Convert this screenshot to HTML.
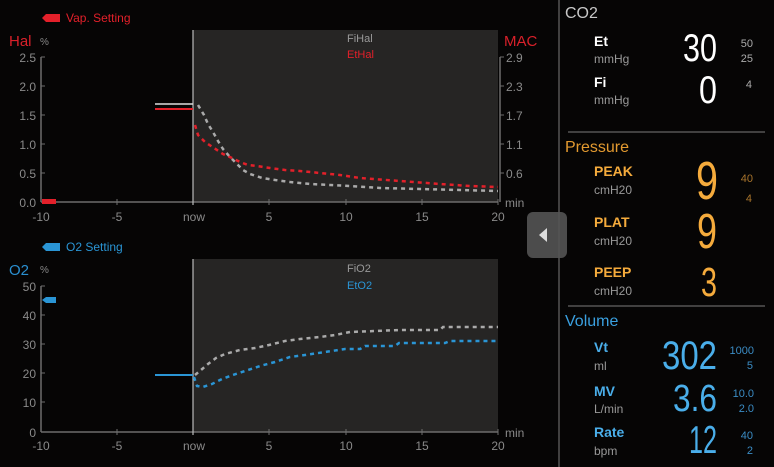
<!DOCTYPE html>
<html><head><meta charset="utf-8"><style>
html,body{margin:0;padding:0;background:#060505;}
svg{display:block;font-family:"Liberation Sans",sans-serif;}
</style></head><body>
<svg width="774" height="467" viewBox="0 0 774 467" xmlns="http://www.w3.org/2000/svg">
<rect width="774" height="467" fill="#060505"/>
<!-- TOP CHART -->
<path d="M42,18 L46,14 L60,14 L60,22 L46,22 Z" fill="#e3202a"/>
<text x="66" y="22" font-size="12" fill="#e3202a">Vap. Setting</text>
<text x="9" y="46" font-size="15" fill="#d8202a">Hal</text>
<text x="40" y="45" font-size="10" fill="#888">%</text>
<rect x="193" y="30" width="305" height="172" fill="#262524"/>
<g stroke="#6d6d6d" stroke-width="1.5" fill="none">
<line x1="41" y1="57" x2="41" y2="202"/><line x1="41" y1="202" x2="498" y2="202"/>
<line x1="500" y1="57" x2="500" y2="202"/>
</g>
<g stroke="#6d6d6d" stroke-width="1">
<line x1="41" y1="57" x2="45" y2="57"/><line x1="41" y1="86" x2="45" y2="86"/><line x1="41" y1="115" x2="45" y2="115"/><line x1="41" y1="144" x2="45" y2="144"/><line x1="41" y1="173" x2="45" y2="173"/>
<line x1="117" y1="199" x2="117" y2="205"/><line x1="269" y1="199" x2="269" y2="205"/><line x1="346" y1="199" x2="346" y2="205"/><line x1="422" y1="199" x2="422" y2="205"/><line x1="498" y1="199" x2="498" y2="205"/>
<line x1="500" y1="57" x2="504" y2="57"/><line x1="500" y1="86" x2="504" y2="86"/><line x1="500" y1="115" x2="504" y2="115"/><line x1="500" y1="144" x2="504" y2="144"/><line x1="500" y1="173" x2="504" y2="173"/>
</g>
<line x1="193" y1="30" x2="193" y2="205" stroke="#bbb" stroke-width="1.2"/>
<g font-size="12" fill="#8a8a8a" text-anchor="end">
<text x="36" y="62">2.5</text><text x="36" y="91">2.0</text><text x="36" y="120">1.5</text><text x="36" y="149">1.0</text><text x="36" y="178">0.5</text><text x="36" y="207">0.0</text>
</g>
<g font-size="12" fill="#8a8a8a" text-anchor="middle">
<text x="41" y="221">-10</text><text x="117" y="221">-5</text><text x="194" y="221">now</text><text x="269" y="221">5</text><text x="346" y="221">10</text><text x="422" y="221">15</text><text x="498" y="221">20</text>
</g>
<g font-size="12" fill="#8a8a8a">
<text x="506" y="62">2.9</text><text x="506" y="91">2.3</text><text x="506" y="120">1.7</text><text x="506" y="149">1.1</text><text x="506" y="178">0.6</text><text x="505" y="207">min</text>
</g>
<text x="504" y="46" font-size="15" fill="#d8202a">MAC</text>
<text x="347" y="42" font-size="11" fill="#999">FiHal</text>
<text x="347" y="58" font-size="11" fill="#e3202a">EtHal</text>
<rect x="42" y="199" width="14" height="5" fill="#e3202a"/>
<line x1="155" y1="104" x2="193" y2="104" stroke="#ddd" stroke-width="1.5"/>
<line x1="155" y1="109" x2="193" y2="109" stroke="#e3202a" stroke-width="2"/>
<polyline fill="none" stroke="#aaa" stroke-width="2.5" stroke-dasharray="4,4" points="198,105 204,115 208,124 213,132 218,141 223,149 230,157 238,165 243,170 250,174 262,178 275,180 290,182 310,184 330,185 350,186 380,188 420,189 460,190 498,191"/>
<polyline fill="none" stroke="#e3202a" stroke-width="2.5" stroke-dasharray="4,4" points="195,125 198,135 205,142 214,148 223,154 232,158 240,162 248,165 257,166 270,168 285,170 300,171 320,173 340,175 360,178 400,181 440,184 470,186 498,187"/>

<!-- BOTTOM CHART -->
<path d="M42,247 L46,243 L60,243 L60,251 L46,251 Z" fill="#2a95d5"/>
<text x="66" y="251" font-size="12" fill="#2a95d5">O2 Setting</text>
<text x="9" y="275" font-size="15" fill="#2a8fd0">O2</text>
<text x="40" y="273" font-size="10" fill="#888">%</text>
<rect x="193" y="259" width="305" height="173" fill="#262524"/>
<g stroke="#6d6d6d" stroke-width="1.5" fill="none">
<line x1="41" y1="286" x2="41" y2="432"/><line x1="41" y1="432" x2="498" y2="432"/>
</g>
<g stroke="#6d6d6d" stroke-width="1">
<line x1="41" y1="286" x2="45" y2="286"/><line x1="41" y1="315" x2="45" y2="315"/><line x1="41" y1="344" x2="45" y2="344"/><line x1="41" y1="373" x2="45" y2="373"/><line x1="41" y1="402" x2="45" y2="402"/>
<line x1="117" y1="429" x2="117" y2="435"/><line x1="269" y1="429" x2="269" y2="435"/><line x1="346" y1="429" x2="346" y2="435"/><line x1="422" y1="429" x2="422" y2="435"/><line x1="498" y1="429" x2="498" y2="435"/>
</g>
<line x1="193" y1="259" x2="193" y2="435" stroke="#bbb" stroke-width="1.2"/>
<g font-size="12" fill="#8a8a8a" text-anchor="end">
<text x="36" y="291">50</text><text x="36" y="320">40</text><text x="36" y="349">30</text><text x="36" y="378">20</text><text x="36" y="407">10</text><text x="36" y="437">0</text>
</g>
<g font-size="12" fill="#8a8a8a" text-anchor="middle">
<text x="41" y="450">-10</text><text x="117" y="450">-5</text><text x="194" y="450">now</text><text x="269" y="450">5</text><text x="346" y="450">10</text><text x="422" y="450">15</text><text x="498" y="450">20</text>
</g>
<text x="505" y="437" font-size="12" fill="#8a8a8a">min</text>
<text x="347" y="272" font-size="11" fill="#999">FiO2</text>
<text x="347" y="289" font-size="11" fill="#2a95d5">EtO2</text>
<path d="M42,300 L46,297 L56,297 L56,303 L46,303 Z" fill="#2a95d5"/>
<line x1="155" y1="375" x2="193" y2="375" stroke="#2a95d5" stroke-width="2"/>
<polyline fill="none" stroke="#aaa" stroke-width="2.5" stroke-dasharray="4,4" points="195,375 201,370 208,364 216,358 225,354 240,350 255,348 269,345 285,341 300,339 320,337 335,335 350,332 375,331 400,330 440,330 443,327 498,327"/>
<polyline fill="none" stroke="#2a95d5" stroke-width="2.5" stroke-dasharray="4,4" points="194,377 197,386 203,387 212,384 222,379 233,375 245,371 260,366 275,362 290,357 305,355 325,352 345,349 360,349 365,346 395,346 399,343 445,343 450,341 498,341"/>

<!-- side tab -->
<rect x="527" y="212" width="40" height="46" rx="6" fill="#4c4c4c"/>
<polygon points="539,235 547,228 547,242" fill="#ddd"/>
<line x1="559" y1="0" x2="559" y2="467" stroke="#555" stroke-width="1.5"/>

<!-- right panel -->
<text x="565" y="18" font-size="16" fill="#c8c8c8">CO2</text>
<text x="594" y="46" font-size="14" font-weight="bold" fill="#fff">Et</text>
<text x="594" y="63" font-size="12" fill="#999">mmHg</text>
<text x="594" y="87" font-size="14" font-weight="bold" fill="#fff">Fi</text>
<text x="594" y="104" font-size="12" fill="#999">mmHg</text>
<text x="717" y="61" font-size="39" fill="#fff" text-anchor="end" textLength="34" lengthAdjust="spacingAndGlyphs">30</text>
<text x="717" y="103" font-size="39" fill="#fff" text-anchor="end" textLength="18" lengthAdjust="spacingAndGlyphs">0</text>
<g font-size="11" fill="#aaa" text-anchor="end"><text x="753" y="47">50</text><text x="753" y="62">25</text><text x="752" y="88">4</text></g>
<line x1="568" y1="132" x2="765" y2="132" stroke="#555" stroke-width="1.5"/>
<text x="565" y="152" font-size="16" fill="#e39a30">Pressure</text>
<g font-weight="bold" font-size="14" fill="#f5ab3c"><text x="594" y="176">PEAK</text><text x="594" y="227">PLAT</text><text x="594" y="277">PEEP</text></g>
<g font-size="12" fill="#999"><text x="594" y="194">cmH20</text><text x="594" y="245">cmH20</text><text x="594" y="295">cmH20</text></g>
<text x="718" y="199" font-size="54" fill="#f5ab3c" text-anchor="end" textLength="22" lengthAdjust="spacingAndGlyphs">9</text>
<text x="717" y="248" font-size="49" fill="#f5ab3c" text-anchor="end" textLength="20" lengthAdjust="spacingAndGlyphs">9</text>
<text x="717" y="296" font-size="41" fill="#f5ab3c" text-anchor="end" textLength="16" lengthAdjust="spacingAndGlyphs">3</text>
<g font-size="11" fill="#a8742c" text-anchor="end"><text x="753" y="182">40</text><text x="752" y="202">4</text></g>
<line x1="568" y1="306" x2="765" y2="306" stroke="#555" stroke-width="1.5"/>
<text x="565" y="326" font-size="16" fill="#3aa0e0">Volume</text>
<g font-weight="bold" font-size="14" fill="#4aaeea"><text x="594" y="352">Vt</text><text x="594" y="396">MV</text><text x="594" y="437">Rate</text></g>
<g font-size="12" fill="#999"><text x="594" y="370">ml</text><text x="594" y="413">L/min</text><text x="594" y="455">bpm</text></g>
<text x="717" y="369" font-size="40" fill="#4aaeea" text-anchor="end" textLength="55" lengthAdjust="spacingAndGlyphs">302</text>
<text x="717" y="411" font-size="38" fill="#4aaeea" text-anchor="end" textLength="44" lengthAdjust="spacingAndGlyphs">3.6</text>
<text x="717" y="453" font-size="39" fill="#4aaeea" text-anchor="end" textLength="28" lengthAdjust="spacingAndGlyphs">12</text>
<g font-size="11" fill="#3b8cc4" text-anchor="end"><text x="754" y="354">1000</text><text x="753" y="369">5</text><text x="754" y="397">10.0</text><text x="754" y="412">2.0</text><text x="753" y="439">40</text><text x="753" y="454">2</text></g>
</svg>
</body></html>
